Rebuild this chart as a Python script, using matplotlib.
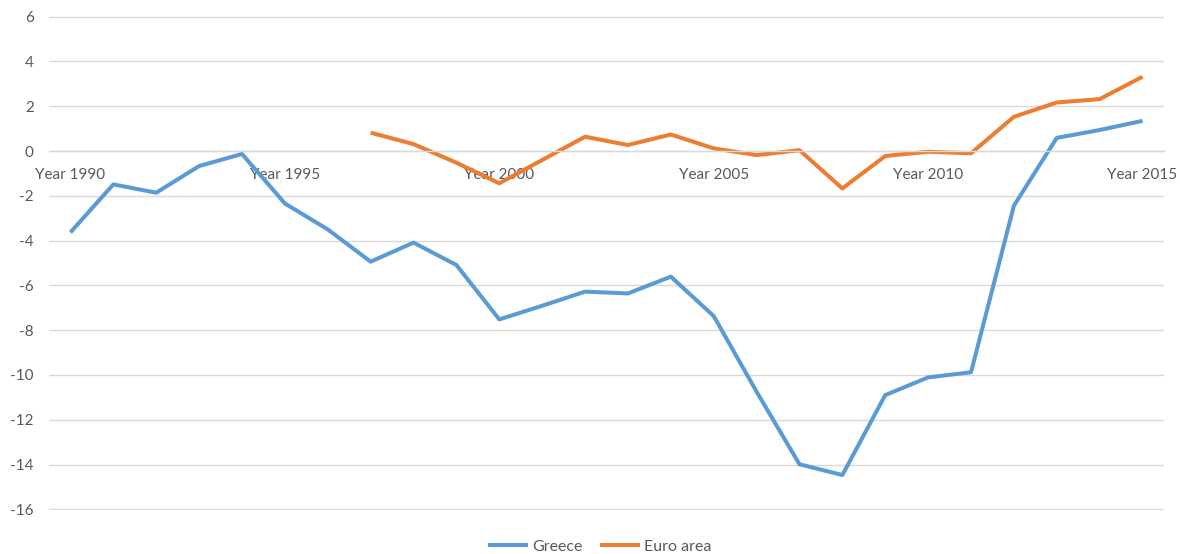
import matplotlib
matplotlib.use("Agg")
import matplotlib.pyplot as plt
import numpy as np

# data
years = list(range(1990, 2016))
greece = [-3.63, -1.49, -1.86, -0.67, -0.13, -2.34, -3.50, -4.94, -4.09, -5.09,
          -7.52, -6.91, -6.28, -6.36, -5.61, -7.37, -10.75, -13.99, -14.47, -10.90,
          -10.11, -9.88, -2.44, 0.59, 0.94, 1.35]
euro_area = [None] * 7 + [0.82, 0.31, -0.52, -1.44, -0.40, 0.64, 0.27, 0.74, 0.12,
                          -0.18, 0.04, -1.67, -0.22, -0.03, -0.10, 1.53, 2.17, 2.32, 3.32]
tick_years = [1990, 1995, 2000, 2005, 2010, 2015]
y_ticks = list(range(-16, 7, 2))

plt.rcParams['font.family'] = ['Lato', 'DejaVu Sans']
text_col = '#595959'
grid_col = '#D9D9D9'

W, H = 1180, 554
fig = plt.figure(figsize=(W / 100, H / 100), dpi=100)
# small margin so the top/bottom gridlines are not clipped
ax = fig.add_axes([49 / W, 1 - 510.4 / H, (1164 - 49) / W, (510.4 - 15.6) / H])

x = np.arange(len(years))
ea = np.array([np.nan if v is None else v for v in euro_area])

ax.plot(x, greece, color='#5B9BD5', lw=2.9, label='Greece', solid_capstyle='butt')
ax.plot(x, ea, color='#ED7D31', lw=2.9, label='Euro area', solid_capstyle='butt')

ax.set_xlim(-0.5, len(years) - 0.5)
ax.set_ylim(-16.05, 6.05)
ax.set_yticks(y_ticks)
ax.set_yticklabels([str(v) for v in y_ticks])
ax.set_xticks([years.index(y) for y in tick_years])
ax.set_xticklabels(['Year %d' % y for y in tick_years])

ax.grid(axis='y', color=grid_col, lw=1.0)
ax.set_axisbelow(True)
for s in ['top', 'right', 'left']:
    ax.spines[s].set_visible(False)
ax.spines['bottom'].set_position(('data', 0))
ax.spines['bottom'].set_color(grid_col)
ax.spines['bottom'].set_linewidth(1.0)

ax.tick_params(axis='both', length=0, colors=text_col, labelsize=11)
ax.tick_params(axis='y', pad=11)
ax.tick_params(axis='x', pad=12)

fig.legend(loc='center', bbox_to_anchor=(600 / W, 1 - 546.7 / H), ncol=2,
           frameon=False, fontsize=11.5, labelcolor=text_col,
           handlelength=2.5, handletextpad=0.25, columnspacing=1.1)

fig.savefig('out.png', dpi=100)
